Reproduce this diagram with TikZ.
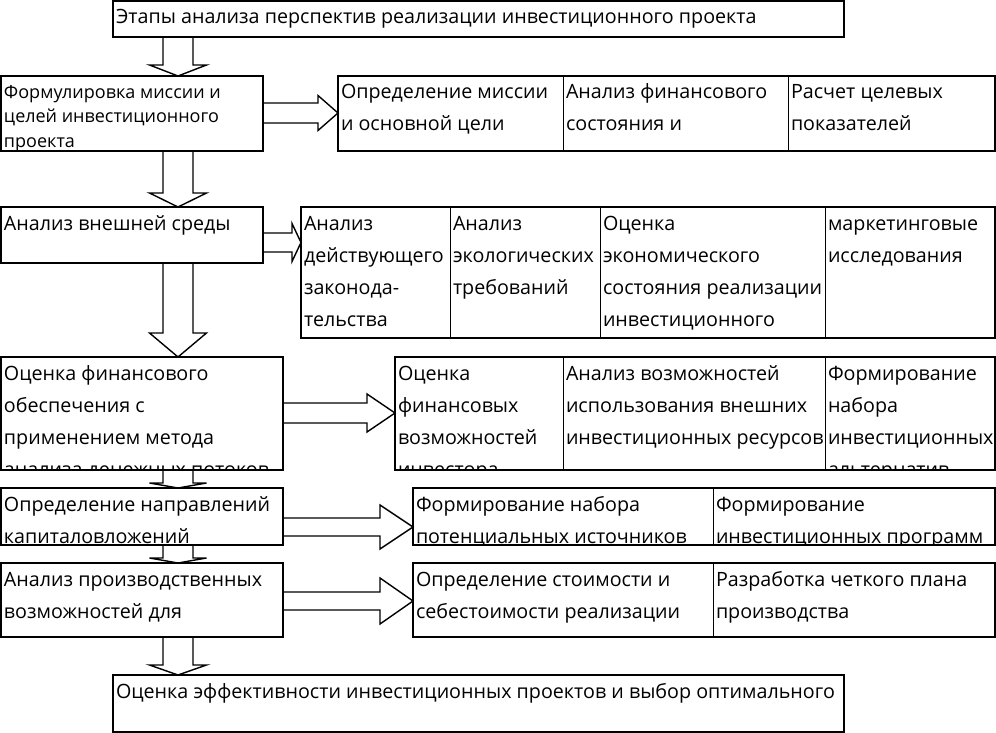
\documentclass[tikz,border=0pt]{standalone}
\usepackage{fontspec}
\usetikzlibrary{calc}
\newfontfamily\osfont{Open Sans}
% hollow block arrows between boxes
\newcommand{\DownArr}[3]{% source, target, head length
  \draw[Barr] ($(#1.south -| ax)+(-15,0)$) -- ($(#2.north -| ax)+(-15,-#3)$)
    -- ($(#2.north -| ax)+(-28.5,-#3)$) -- (#2.north -| ax)
    -- ($(#2.north -| ax)+(28.5,-#3)$) -- ($(#2.north -| ax)+(15,-#3)$)
    -- ($(#1.south -| ax)+(15,0)$);}
\newcommand{\RightArr}[6]{% source, target, centre y, shaft half, head half, head length
  \coordinate (rc) at (0,#3);
  \draw[Barr] ($(#1.east |- rc)+(0,-#4)$) -- ($(#2.west |- rc)+(-#6,-#4)$)
    -- ($(#2.west |- rc)+(-#6,-#5)$) -- (#2.west |- rc)
    -- ($(#2.west |- rc)+(-#6,#5)$) -- ($(#2.west |- rc)+(-#6,#4)$)
    -- ($(#1.east |- rc)+(0,#4)$);}
\tikzset{
  Ctext/.style={anchor=north west, align=left, inner sep=0pt, draw=none,
                minimum width=0pt, minimum height=0pt,
                font=\osfont\fontsize{19.7}{32}\selectfont},
  Cbox/.style={draw, line width=0.9pt, anchor=north west, inner sep=0pt, outer sep=0pt,
               path picture={\node[Ctext] at ([xshift=3pt,yshift=-8pt]path picture bounding box.north west) {\rule{0pt}{15pt}#1};}},
  Sbox/.style={Cbox={#1}, line width=2.4pt},
  Dbox/.style={draw, line width=2.4pt, anchor=north west, inner sep=0pt, outer sep=0pt,
               path picture={\node[Ctext, font=\osfont\fontsize{18}{25}\selectfont] at ([xshift=3pt,yshift=-7pt]path picture bounding box.north west) {\rule{0pt}{15pt}#1};}},
  Touter/.style={line width=2.4pt},
  Barr/.style={line width=1.4pt, line join=miter}
}
\begin{document}
\begin{tikzpicture}[x=1pt, y=-1pt]
  \useasboundingbox (0,0) rectangle (996,733);
  \coordinate (ax) at (178,0);

  % stages
  \node[Sbox={Этапы анализа перспектив реализации инвестиционного проекта},
        minimum width=731, minimum height=36] (top) at (113,1) {};
  \node[Dbox={Формулировка миссии и\\целей инвестиционного\\проекта},
        minimum width=262, minimum height=75] (fA) at (1,76) {};
  \node[Sbox={Анализ внешней среды},
        minimum width=262, minimum height=56] (fB) at (1,207) {};
  \node[Sbox={Оценка финансового\\обеспечения с\\применением метода\\анализа денежных потоков},
        minimum width=282, minimum height=113] (fC) at (1,357) {};
  \node[Sbox={Определение направлений\\капиталовложений},
        minimum width=282, minimum height=57] (fD) at (1,488) {};
  \node[Sbox={Анализ производственных\\возможностей для},
        minimum width=282, minimum height=74] (fE) at (1,563) {};
  \node[Sbox={Оценка эффективности инвестиционных проектов и выбор оптимального},
        minimum width=731, minimum height=57] (fin) at (113,675) {};

  % row 1
  \node[Cbox={Определение миссии\\и основной цели}, minimum width=225, minimum height=75] (t1a) at (338,76) {};
  \node[Cbox={Анализ финансового\\состояния и}, minimum width=225, minimum height=75] (t1b) at (t1a.north east) {};
  \node[Cbox={Расчет целевых\\показателей}, minimum width=207, minimum height=75] (t1c) at (t1b.north east) {};
  \draw[Touter] (t1a.north west) rectangle (t1c.south east);

  % row 2
  \node[Cbox={Анализ\\действующего\\законода-\\тельства}, minimum width=149, minimum height=131] (t2a) at (301,207) {};
  \node[Cbox={Анализ\\экологических\\требований}, minimum width=150, minimum height=131] (t2b) at (t2a.north east) {};
  \node[Cbox={Оценка\\экономического\\состояния реализации\\инвестиционного}, minimum width=225, minimum height=131] (t2c) at (t2b.north east) {};
  \node[Cbox={маркетинговые\\исследования}, minimum width=170, minimum height=131] (t2d) at (t2c.north east) {};
  \draw[Touter] (t2a.north west) rectangle (t2d.south east);

  % row 3
  \node[Cbox={Оценка\\финансовых\\возможностей\\инвестора}, minimum width=168, minimum height=113] (t3a) at (395,357) {};
  \node[Cbox={Анализ возможностей\\использования внешних\\инвестиционных ресурсов}, minimum width=262, minimum height=113] (t3b) at (t3a.north east) {};
  \node[Cbox={Формирование\\набора\\инвестиционных\\альтернатив}, minimum width=170, minimum height=113] (t3c) at (t3b.north east) {};
  \draw[Touter] (t3a.north west) rectangle (t3c.south east);

  % row 4
  \node[Cbox={Формирование набора\\потенциальных источников}, minimum width=300, minimum height=57] (t4a) at (413,488) {};
  \node[Cbox={Формирование\\инвестиционных программ}, minimum width=282, minimum height=57] (t4b) at (t4a.north east) {};
  \draw[Touter] (t4a.north west) rectangle (t4b.south east);

  % row 5
  \node[Cbox={Определение стоимости и\\себестоимости реализации}, minimum width=300, minimum height=74] (t5a) at (413,563) {};
  \node[Cbox={Разработка четкого плана\\производства}, minimum width=282, minimum height=74] (t5b) at (t5a.north east) {};
  \draw[Touter] (t5a.north west) rectangle (t5b.south east);

  % arrows
  \DownArr{top}{fA}{11}
  \DownArr{fA}{fB}{14}
  \DownArr{fB}{fC}{24}
  \DownArr{fC}{fD}{5}
  \DownArr{fD}{fE}{5}
  \DownArr{fE}{fin}{10}
  \RightArr{fA}{t1a}{113}{10}{17.5}{20}
  \RightArr{fB}{t2a}{242.5}{9.5}{19}{9}
  \RightArr{fC}{t3a}{413}{10}{19}{28}
  \RightArr{fD}{t4a}{527}{9}{22}{33}
  \RightArr{fE}{t5a}{601}{9}{23}{33}
\end{tikzpicture}
\end{document}
